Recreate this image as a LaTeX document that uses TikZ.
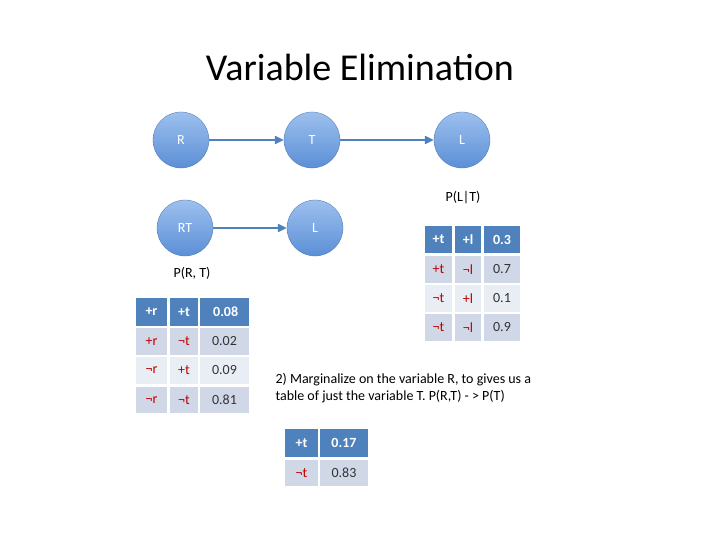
\documentclass[tikz,border=0pt]{standalone}
\usepackage{fontspec}
\setmainfont{Carlito}
\usetikzlibrary{arrows.meta}
\definecolor{hdr}{HTML}{4F81BD}
\definecolor{rowa}{HTML}{D0D8E8}
\definecolor{rowb}{HTML}{E9EDF4}
\definecolor{lab}{HTML}{C00000}
\definecolor{num}{HTML}{333333}
\definecolor{nodeb}{HTML}{5B8FD6}
\definecolor{nodet}{HTML}{9DC0EE}
\newcommand{\mycell}[7]{\node[cellbox, fill=#6, minimum width={(#4-#2)*1pt}, minimum height={(#5-#3)*1pt}] (#1) at ({(#2+#4)/2*1pt},{-(#3+#5)/2*1pt}) {#7};}
\begin{document}
\begin{tikzpicture}[x=1pt,y=-1pt,
  cellbox/.style={inner sep=0pt, font=\fontsize{14}{16}\selectfont},
  bn/.style={circle, minimum size=56pt, inner sep=0pt, top color=nodet, bottom color=nodeb, draw=nodeb!80!black, line width=0.3pt, text=white, font=\fontsize{14}{16}\selectfont},
  arr/.style={-{Triangle[length=9pt,width=8pt]}, line width=2pt, draw=hdr},
  txt/.style={font=\fontsize{14}{17}\selectfont, text=black}]
\useasboundingbox (0,0) rectangle (720,540);
\node[font=\fontsize{38}{44}\selectfont] (title) at (360,67) {Variable Elimination};
\node[bn] (r) at (181,140) {R};
\node[bn] (t) at (312,140) {T};
\node[bn] (l) at (462,140) {L};
\node[bn] (rt) at (185,228) {RT};
\node[bn] (l2) at (315,228) {L};
\draw[arr] (r) -- (t);
\draw[arr] (t) -- (l);
\draw[arr] (rt) -- (l2);
\node[txt] (plt) at (463,198) {P(L|T)};
\node[txt] (prt) at (192,273) {P(R, T)};
% left table
\mycell{a11}{136}{298}{167}{326}{hdr}{\textcolor{white}{\textbf{+r}}}
\mycell{a12}{170}{298}{198}{326}{hdr}{\textcolor{white}{\textbf{+t}}}
\mycell{a13}{200}{298}{249}{326}{hdr}{\textcolor{white}{\textbf{\,0.08\hfill}}}
\mycell{a21}{136}{328}{167}{355}{rowa}{\textcolor{lab}{+r}}
\mycell{a22}{170}{328}{198}{355}{rowa}{\textcolor{lab}{¬t}}
\mycell{a23}{200}{328}{249}{355}{rowa}{\textcolor{num}{0.02}}
\mycell{a31}{136}{357}{167}{384}{rowb}{\textcolor{lab}{¬r}}
\mycell{a32}{170}{357}{198}{384}{rowb}{\textcolor{lab}{+t}}
\mycell{a33}{200}{357}{249}{384}{rowb}{\textcolor{num}{0.09}}
\mycell{a41}{136}{387}{167}{413}{rowa}{\textcolor{lab}{¬r}}
\mycell{a42}{170}{387}{198}{413}{rowa}{\textcolor{lab}{¬t}}
\mycell{a43}{200}{387}{249}{413}{rowa}{\textcolor{num}{0.81}}
% right table
\mycell{b11}{425}{226}{452}{253}{hdr}{\textcolor{white}{\textbf{+t}}}
\mycell{b12}{455}{226}{481}{253}{hdr}{\textcolor{white}{\textbf{+l}}}
\mycell{b13}{484}{226}{520}{253}{hdr}{\textcolor{white}{\textbf{0.3}}}
\mycell{b21}{425}{256}{452}{283}{rowa}{\textcolor{lab}{+t}}
\mycell{b22}{455}{256}{481}{283}{rowa}{\textcolor{lab}{¬l}}
\mycell{b23}{484}{256}{520}{283}{rowa}{\textcolor{num}{0.7}}
\mycell{b31}{425}{285}{452}{312}{rowb}{\textcolor{lab}{¬t}}
\mycell{b32}{455}{285}{481}{312}{rowb}{\textcolor{lab}{+l}}
\mycell{b33}{484}{285}{520}{312}{rowb}{\textcolor{num}{0.1}}
\mycell{b41}{425}{314}{452}{341}{rowa}{\textcolor{lab}{¬t}}
\mycell{b42}{455}{314}{481}{341}{rowa}{\textcolor{lab}{¬l}}
\mycell{b43}{484}{314}{520}{341}{rowa}{\textcolor{num}{0.9}}
% bottom table
\mycell{c11}{285}{429}{318}{457}{hdr}{\textcolor{white}{\textbf{+t}}}
\mycell{c12}{320}{429}{368}{457}{hdr}{\textcolor{white}{\textbf{0.17}}}
\mycell{c21}{285}{460}{318}{486}{rowa}{\textcolor{lab}{¬t}}
\mycell{c22}{320}{460}{368}{486}{rowa}{\textcolor{num}{0.83}}
\node[txt, align=left, anchor=west] (note) at (272,388) {2) Marginalize on the variable R, to gives us a\\table of just the variable T. P(R,T) - > P(T)};
\end{tikzpicture}
\end{document}
